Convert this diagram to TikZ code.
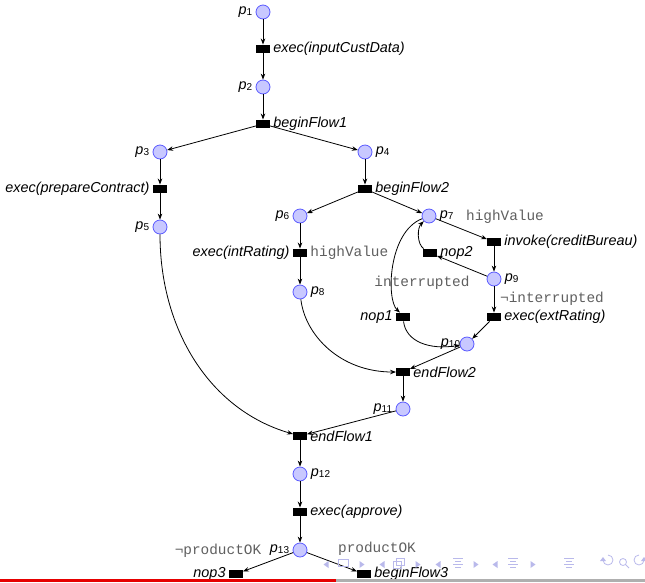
\documentclass[tikz,border=0pt]{standalone}
\usepackage{fontspec}
\setmainfont{Liberation Sans}
\setmonofont{Liberation Mono}
\usetikzlibrary{arrows.meta}
\definecolor{placefill}{RGB}{200,200,255}
\definecolor{placedraw}{RGB}{90,90,255}
\definecolor{guard}{RGB}{95,95,95}
\definecolor{navc}{RGB}{185,185,235}
\definecolor{barred}{RGB}{230,0,0}
\definecolor{bargray}{RGB}{175,175,175}
\newcommand\pl[1]{\textit{p}\raisebox{-1.5pt}{\fontsize{10}{10}\selectfont #1}}
\begin{document}
\begin{tikzpicture}[x=1pt,y=-1pt,
  every node/.style={font=\fontsize{14.4}{17}\selectfont},
  place/.style={circle, draw=placedraw, fill=placefill, line width=0.8pt, minimum size=14pt, inner sep=0pt},
  trans/.style={rectangle, fill=black, minimum width=13.5pt, minimum height=8.5pt, inner sep=0pt},
  lbl/.style={font=\fontsize{14.4}{17}\selectfont\itshape},
  grd/.style={font=\fontsize{14.4}{17}\selectfont\ttfamily, text=guard},
  arc/.style={-{Stealth[length=6pt,width=4.5pt]}, line width=0.8pt},
  nav/.style={navc, line width=0.8pt}]
\useasboundingbox (0,0) rectangle (645,582);
\clip (0,0) rectangle (645,582);
% places and transitions
\node[place, label=left:\pl{1}] (p1) at (263,12) {};
\node[trans, label={[lbl]right:exec(inputCustData)}] (t1) at (263,49) {};
\node[place, label=left:\pl{2}] (p2) at (263,87) {};
\node[trans, label={[lbl]right:beginFlow1}] (bf1) at (263,124) {};
\node[place, label=left:\pl{3}] (p3) at (160,152) {};
\node[place, label=right:\pl{4}] (p4) at (365,152) {};
\node[trans, label={[lbl]left:exec(prepareContract)}] (tpc) at (160,189) {};
\node[trans, label={[lbl]right:beginFlow2}] (bf2) at (365,189) {};
\node[place, label=left:\pl{5}] (p5) at (160,227) {};
\node[place, label=left:\pl{6}] (p6) at (300,216) {};
\node[place, label=right:\pl{7}] (p7) at (429,216) {};
\node[trans, label={[lbl]left:exec(intRating)}, label={[grd]right:highValue}] (tir) at (300,253) {};
\node[trans, label={[lbl]right:invoke(creditBureau)}] (tcb) at (494,242) {};
\node[trans, label={[lbl]right:nop2}] (nop2) at (430,253) {};
\node[place, label=right:\pl{9}] (p9) at (494,279) {};
\node[place, label=right:\pl{8}] (p8) at (300,292) {};
\node[trans, label={[lbl]left:nop1}] (nop1) at (403,317) {};
\node[trans, label={[lbl]right:exec(extRating)}] (ter) at (494,317) {};
\node[place, label={[label distance=-4pt]left:\pl{10}}] (p10) at (467,344) {};
\node[trans, label={[lbl]right:endFlow2}] (ef2) at (403,372) {};
\node[place, label=left:\pl{11}] (p11) at (403,409) {};
\node[trans, label={[lbl]right:endFlow1}] (ef1) at (300,436) {};
\node[place, label=right:\pl{12}] (p12) at (300,474) {};
\node[trans, label={[lbl]right:exec(approve)}] (tap) at (300,512) {};
\node[place, label=left:\pl{13}] (p13) at (300,550) {};
\node[trans, label={[lbl]left:nop3}] (nop3) at (236,574) {};
\node[trans, label={[lbl]right:beginFlow3}] (bf3) at (364,574) {};
% guards
\node[grd] (g2) at (505,217) {highValue};
\node[grd] (g3) at (422,283) {interrupted};
\node[grd] (g4) at (552,299) {¬interrupted};
\node[grd] (g5) at (218,551) {¬productOK};
\node[grd] (g6) at (377,549) {productOK};
% arcs
\draw[arc] (p1) -- (t1);
\draw[arc] (t1) -- (p2);
\draw[arc] (p2) -- (bf1);
\draw[arc] (bf1) -- (p3);
\draw[arc] (bf1) -- (p4);
\draw[arc] (p3) -- (tpc);
\draw[arc] (tpc) -- (p5);
\draw[arc] (p4) -- (bf2);
\draw[arc] (bf2) -- (p6);
\draw[arc] (bf2) -- (p7);
\draw[arc] (p6) -- (tir);
\draw[arc] (tir) -- (p8);
\draw[arc] (p7) -- (tcb);
\draw[arc] (tcb) -- (p9);
\draw[arc] (p9) -- (nop2);
\draw[arc] (p9) -- (ter);
\draw[arc] (ter) -- (p10);
\draw[arc] (p10) -- (ef2);
\draw[arc] (ef2) -- (p11);
\draw[arc] (p11) -- (ef1);
\draw[arc] (ef1) -- (p12);
\draw[arc] (p12) -- (tap);
\draw[arc] (tap) -- (p13);
\draw[arc] (p13) -- (nop3);
\draw[arc] (p13) -- (bf3);
\draw[arc] (nop2) .. controls (417,244) and (417,228) .. (p7);
\draw[arc] (p7) .. controls (388,232) and (386,300) .. ([xshift=-3pt]nop1.north);
\draw[arc] (nop1) .. controls (406,342) and (430,350) .. (p10);
\draw[arc] (p8) .. controls (305,335) and (340,372) .. (ef2);
\draw[arc] (p5) .. controls (160,330) and (210,410) .. (ef1);
% beamer navigation symbols
\fill[navc] (328.5,561) -- (323.5,564.5) -- (328.5,568) -- cycle;
\draw[nav] (338,559) rectangle (348,566);
\fill[navc] (359.5,561) -- (364.5,564.5) -- (359.5,568) -- cycle;
\fill[navc] (384.5,561) -- (379.5,564.5) -- (384.5,568) -- cycle;
\draw[nav] (393,561) rectangle (401,568);
\draw[nav] (396,558) rectangle (404,565);
\fill[navc] (415.5,561) -- (420.5,564.5) -- (415.5,568) -- cycle;
\fill[navc] (440.5,561) -- (435.5,564.5) -- (440.5,568) -- cycle;
\foreach \xx in {458,513,569}{
  \draw[nav] (\xx-5,558) -- (\xx+5,558);
  \draw[nav] (\xx-3,561) -- (\xx+3,561);
  \draw[nav] (\xx-5,564) -- (\xx+5,564);
  \draw[nav] (\xx-3,567) -- (\xx+3,567);
}
\fill[navc] (473.5,561) -- (478.5,564.5) -- (473.5,568) -- cycle;
\fill[navc] (497.5,561) -- (492.5,564.5) -- (497.5,568) -- cycle;
\fill[navc] (530.5,561) -- (535.5,564.5) -- (530.5,568) -- cycle;
\draw[nav] (603,560) arc[start angle=180, end angle=-90, radius=5];
\fill[navc] (600,561) -- (606,561) -- (603,557) -- cycle;
\draw[nav] (623,562) circle[radius=3.5];
\draw[nav] (625.5,564.5) -- (629,568);
\draw[nav] (644,560) arc[start angle=0, end angle=270, radius=5];
\fill[navc] (641,561) -- (647,561) -- (644,557) -- cycle;
% beamer footer bar
\fill[barred] (0,579) rectangle (336,582);
\fill[bargray] (336,579) rectangle (645,582);
\end{tikzpicture}
\end{document}
